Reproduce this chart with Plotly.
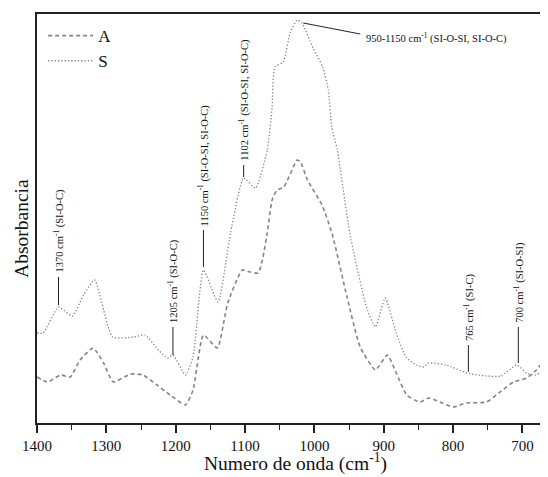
import plotly.graph_objects as go

# ---- data (wavenumber cm-1, absorbance in arbitrary units) ----
wn_S = [1400, 1391, 1369, 1349, 1333, 1317, 1291, 1261, 1244, 1225, 1212, 1204, 1186, 1175,
        1160, 1139, 1121, 1102, 1085, 1068, 1061, 1057, 1045, 1035, 1025, 1018, 1002, 988,
        980, 975, 967, 949, 925, 912, 898, 882, 868, 853, 842, 835, 810, 780, 752, 731,
        708, 694, 681, 674, 663]
abs_S = [0.225, 0.225, 0.29, 0.2675, 0.32, 0.3575, 0.215, 0.215, 0.22, 0.1825, 0.1625, 0.17,
         0.12, 0.165, 0.3825, 0.3025, 0.475, 0.6125, 0.5875, 0.6825, 0.79, 0.89, 0.9025,
         0.975, 1.0075, 1.0, 0.9375, 0.89, 0.8325, 0.74, 0.6825, 0.475, 0.29, 0.24, 0.3125,
         0.225, 0.165, 0.145, 0.14, 0.15, 0.145, 0.125, 0.1175, 0.1175, 0.145, 0.125, 0.12,
         0.1275, 0.1825]

wn_A = [1400, 1385, 1366, 1352, 1338, 1319, 1304, 1290, 1265, 1247, 1227, 1208, 1186, 1175,
        1160, 1140, 1125, 1104, 1093, 1081, 1075, 1068, 1061, 1054, 1044, 1025, 1020, 1010,
        989, 974, 953, 934, 912, 895, 882, 867, 848, 835, 819, 800, 781, 752, 734, 713,
        694, 680, 664]
abs_A = [0.115, 0.1025, 0.12, 0.115, 0.1575, 0.1875, 0.15, 0.1025, 0.1225, 0.12, 0.095, 0.07,
         0.045, 0.0825, 0.22, 0.1875, 0.3, 0.3825, 0.3775, 0.375, 0.4075, 0.475, 0.5575,
         0.5825, 0.59, 0.6575, 0.6525, 0.6075, 0.545, 0.47, 0.315, 0.19, 0.1325, 0.17, 0.125,
         0.07, 0.0525, 0.0625, 0.0525, 0.04, 0.05, 0.0525, 0.075, 0.1025, 0.1125, 0.1325,
         0.1675]

# band labels: (label text, wavenumber of marker line, line bottom, line top)
band_text = ["1370 cm<sup>-1</sup> (SI-O-C)", "1205 cm<sup>-1</sup> (SI-O-C)",
             "1150 cm<sup>-1</sup> (SI-O-SI, SI-O-C)", "1102 cm<sup>-1</sup> (SI-O-SI, SI-O-C)",
             "765 cm<sup>-1</sup> (SI-C)", "700 cm<sup>-1</sup> (SI-O-SI)"]
band_wn = [1369, 1204, 1160, 1102, 778, 706]
band_y0 = [0.295, 0.17, 0.39, 0.615, 0.128, 0.15]
band_y1 = [0.365, 0.24, 0.4825, 0.645, 0.195, 0.24]

range_text = "950-1150 cm<sup>-1</sup> (SI-O-SI, SI-O-C)"
x_title = "Numero de onda (cm<sup>-1</sup>)"
y_title = "Absorbancia"

FONT = "Liberation Serif"
GRAY = "#858585"

fig = go.Figure()
fig.add_trace(go.Scatter(x=wn_A, y=abs_A, name="A", mode="lines",
                         line=dict(color=GRAY, width=1.6, dash="4px,3px",
                                   shape="spline", smoothing=0.5)))
fig.add_trace(go.Scatter(x=wn_S, y=abs_S, name="S", mode="lines",
                         line=dict(color=GRAY, width=1.3, dash="1.3px,2px",
                                   shape="spline", smoothing=0.5)))

for t, w, y0, y1 in zip(band_text, band_wn, band_y0, band_y1):
    fig.add_shape(type="line", xref="x", yref="y", x0=w, x1=w, y0=y0, y1=y1,
                  line=dict(color="#222222", width=1))
    fig.add_annotation(x=w, y=y1 + 0.005, xref="x", yref="y", text=t, textangle=-90,
                       showarrow=False, xanchor="center", yanchor="bottom",
                       font=dict(family=FONT, size=10.5, color="#111111"))

fig.add_shape(type="line", xref="x", yref="y", x0=1016, y0=1.0, x1=934, y1=0.9725,
              line=dict(color="#222222", width=1))
fig.add_annotation(x=929, y=0.9625, xref="x", yref="y", text=range_text, showarrow=False,
                   xanchor="left", yanchor="middle",
                   font=dict(family=FONT, size=10.5, color="#111111"))

# axis titles
fig.add_annotation(x=0.505, y=-0.0954, xref="paper", yref="paper", text=x_title,
                   showarrow=False, xanchor="center", yanchor="middle",
                   font=dict(family=FONT, size=19.5, color="#111111"))
fig.add_annotation(x=-0.0294, y=0.477, xref="paper", yref="paper", text=y_title,
                   textangle=-90, showarrow=False, xanchor="center", yanchor="middle",
                   font=dict(family=FONT, size=19.5, color="#111111"))

# page body has an 8px margin, so the figure is 8px smaller than the window
fig.update_layout(
    width=540, height=469,
    margin=dict(l=29, r=0, t=6, b=54),
    paper_bgcolor="white", plot_bgcolor="white",
    font=dict(family=FONT, color="#111111"),
    showlegend=True,
    legend=dict(x=0.012, y=0.99, xanchor="left", yanchor="top",
                bgcolor="rgba(0,0,0,0)", font=dict(family=FONT, size=17, color="#111111"),
                itemwidth=45, tracegroupgap=0),
    xaxis=dict(range=[1400, 663.2], showgrid=False, zeroline=False, automargin=False,
               showline=True, linecolor="#222222", linewidth=1.8, mirror=True,
               ticks="outside", ticklen=8, tickwidth=1.5, tickcolor="#222222",
               tickmode="array", tickvals=[1400, 1300, 1200, 1100, 1000, 900, 800, 700],
               tickfont=dict(family=FONT, size=15, color="#111111"),
               minor=dict(ticks="outside", ticklen=5, tickwidth=1.3, tickcolor="#222222",
                          dtick=50, tick0=1350)),
    yaxis=dict(range=[0, 1.0225], showgrid=False, zeroline=False, showticklabels=False,
               automargin=False,
               ticks="", showline=True, linecolor="#222222", linewidth=1.8, mirror=False),
)

fig.write_html("out.html")
